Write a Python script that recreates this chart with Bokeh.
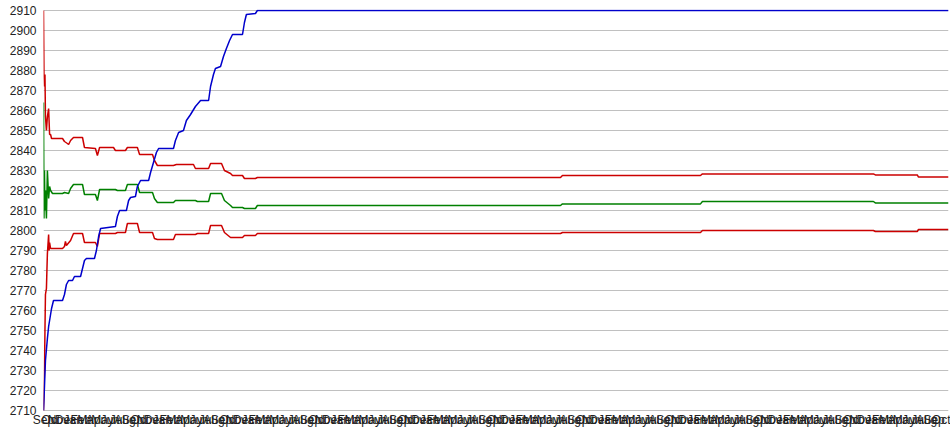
import pandas as pd
from bokeh.plotting import figure
from bokeh.models import Range1d, FixedTicker
from bokeh.embed import file_html
from bokeh.resources import INLINE

START = "2004-09-01"
END_DAY = 3711

# day offsets from START and values
blue_days = [0, 4, 8, 16, 21, 29, 33, 41, 78, 86, 94, 103, 119, 127, 152, 160, 168, 176, 209, 217, 226, 234,
             295, 303, 312, 340, 349, 357, 377, 385, 398, 431, 439, 451, 463, 472, 533, 541, 554, 574, 586,
             603, 623, 644, 677, 685, 697, 705, 726, 738, 750, 763, 775, 816, 824, 832, 869, 877, 3711]
blue_vals = [2710, 2722, 2735, 2746, 2752, 2758, 2761, 2765, 2765, 2768, 2773, 2775, 2775, 2777, 2777, 2781,
             2785, 2786, 2786, 2790, 2797, 2801, 2802, 2807, 2810, 2810, 2815, 2816.5, 2817, 2822, 2825, 2825,
             2829, 2834, 2839, 2841, 2841, 2845, 2849, 2850, 2855, 2858, 2862, 2865, 2865, 2872, 2878, 2881,
             2882, 2887, 2891, 2895, 2898, 2898, 2904, 2908, 2908.5, 2910, 2910]

upper_days = [0, 2, 4, 6, 8, 12, 16, 21, 25, 29, 33, 78, 86, 98, 103, 111, 123, 160, 168, 213, 221, 230, 287,
              295, 336, 344, 385, 394, 447, 455, 467, 533, 545, 615, 623, 677, 685, 730, 742, 767, 775, 816,
              824, 869, 877, 2120, 2128, 2694, 2702, 3403, 3411, 3583, 3588, 3711]
upper_vals = [2910, 2877, 2872, 2878, 2857, 2850, 2857, 2861, 2848, 2848, 2846, 2846, 2844.5, 2843.5, 2843,
              2845, 2846.5, 2846.5, 2841.5, 2841, 2837.5, 2841.5, 2841.5, 2840, 2840, 2841.5, 2841.5, 2838,
              2838, 2835, 2832.5, 2832.5, 2833, 2833, 2831, 2831, 2833.5, 2833.5, 2830, 2828.5, 2827.5, 2827.5,
              2826, 2826, 2826.5, 2826.5, 2827.5, 2827.5, 2828.3, 2828.3, 2827.8, 2827.8, 2826.7, 2826.7]

mid_days = [0, 2, 4, 6, 8, 12, 16, 21, 25, 29, 37, 78, 86, 103, 111, 123, 160, 168, 213, 221, 230, 295, 303,
            336, 344, 385, 394, 447, 455, 467, 533, 541, 623, 631, 677, 685, 730, 742, 767, 775, 816, 824, 869,
            877, 2120, 2128, 2694, 2702, 3403, 3411, 3711]
mid_vals = [2864, 2806, 2830, 2810, 2820, 2806, 2830, 2816, 2822, 2820, 2818.5, 2818.5, 2819, 2818.5, 2821,
            2823, 2823, 2818, 2818, 2815, 2820.5, 2820.5, 2820, 2820, 2823, 2823, 2819, 2819, 2816, 2814, 2814,
            2815, 2815, 2814.5, 2814.5, 2818.5, 2818.5, 2815, 2812.5, 2811.5, 2811.5, 2811, 2811, 2812.5,
            2812.5, 2813.3, 2813.3, 2814.5, 2814.5, 2813.8, 2813.8]

lower_days = [0, 4, 6, 8, 12, 14, 16, 21, 23, 25, 29, 78, 86, 90, 94, 111, 123, 160, 168, 213, 221, 230, 295,
              303, 336, 344, 385, 394, 447, 455, 467, 533, 541, 623, 631, 677, 685, 730, 742, 767, 816, 824,
              869, 877, 2120, 2128, 2694, 2702, 3403, 3411, 3583, 3588, 3711]
lower_vals = [2710, 2730, 2750, 2768, 2771, 2780, 2788.5, 2798, 2790, 2794, 2791, 2791, 2792, 2794.5, 2792.5,
              2795, 2798.5, 2798.5, 2794, 2794, 2792, 2798.5, 2798.5, 2799, 2799, 2803.5, 2803.5, 2799, 2799,
              2796, 2795.5, 2795.5, 2798, 2798, 2798.5, 2798.5, 2802.5, 2802.5, 2799, 2796.5, 2796.5, 2797.5,
              2797.5, 2798.5, 2798.5, 2799, 2799, 2800, 2800, 2799.5, 2799.5, 2800.5, 2800.5]

y_ticks = list(range(2710, 2911, 10))

start = pd.Timestamp(START)
months = pd.date_range(START, start + pd.Timedelta(days=END_DAY), freq="MS")
x_ticks = [int((m - start).days) for m in months]
x_labels = {t: m.strftime("%b") for t, m in zip(x_ticks, months)}

FONT = "Liberation Sans"

p = figure(width=950, height=435, output_backend="svg", toolbar_location=None,
           x_range=Range1d(0, END_DAY), y_range=Range1d(2709.5, 2910.5),
           min_border_left=43, min_border_right=2, min_border_top=9, min_border_bottom=24)
p.outline_line_color = None
p.background_fill_color = "white"
p.border_fill_color = "white"

p.xgrid.grid_line_color = None
p.ygrid.grid_line_color = "#c0c0c0"
p.ygrid.grid_line_width = 1

p.yaxis.ticker = FixedTicker(ticks=y_ticks)
p.xaxis.ticker = FixedTicker(ticks=x_ticks)
p.xaxis.major_label_overrides = x_labels

for ax in (p.xaxis[0], p.yaxis[0]):
    ax.axis_line_color = None
    ax.major_tick_line_color = None
    ax.minor_tick_line_color = None
    ax.major_tick_out = 0
    ax.major_tick_in = 0
    ax.major_label_text_font = FONT
    ax.major_label_text_font_size = "12px"
    ax.major_label_text_color = "#222222"
p.yaxis.major_label_standoff = 7
p.xaxis.major_label_standoff = 1

p.line(upper_days, upper_vals, line_color="#cc0000", line_width=1.5)
p.line(lower_days, lower_vals, line_color="#cc0000", line_width=1.5)
p.line(mid_days, mid_vals, line_color="#008000", line_width=1.5)
p.line(blue_days, blue_vals, line_color="#0000cc", line_width=1.5)

open("out.html", "w").write(file_html(p, INLINE))
